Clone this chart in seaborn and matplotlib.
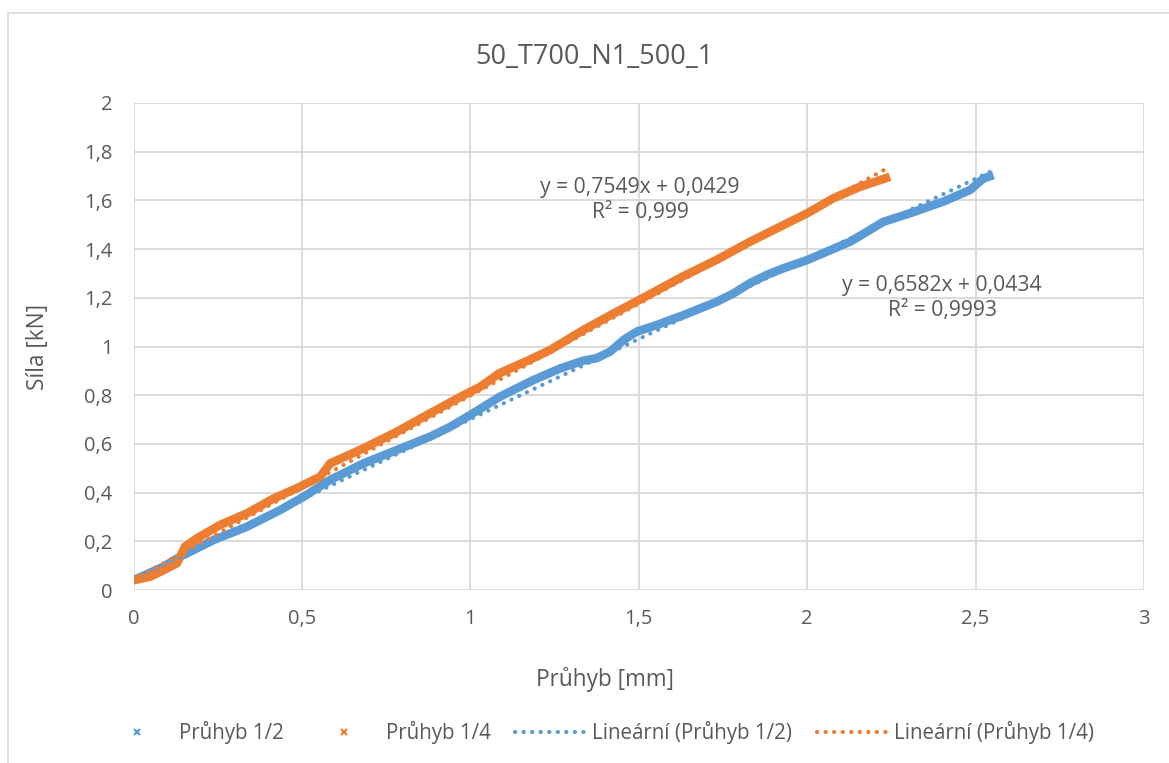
import numpy as np
import pandas as pd
import matplotlib
matplotlib.use("Agg")
import matplotlib.pyplot as plt
from matplotlib.lines import Line2D
from matplotlib.patches import Rectangle
import seaborn as sns

# ---- data ----
title = "50_T700_N1_500_1"
x_label = "Průhyb [mm]"
y_label = "Síla [kN]"
series_names = ["Průhyb 1/2", "Průhyb 1/4"]

x_half = [0.0, 0.089, 0.139, 0.237, 0.337, 0.435, 0.505, 0.584, 0.683, 0.782, 0.881, 0.94,
          1.0, 1.088, 1.187, 1.267, 1.336, 1.375, 1.415, 1.455, 1.494, 1.553, 1.633, 1.732,
          1.781, 1.83, 1.88, 1.929, 2.0, 2.127, 2.177, 2.226, 2.305, 2.404, 2.484, 2.523, 2.553]
y_half = [0.04, 0.096, 0.137, 0.205, 0.26, 0.328, 0.383, 0.452, 0.52, 0.575, 0.63, 0.67,
          0.719, 0.794, 0.862, 0.91, 0.942, 0.952, 0.979, 1.027, 1.061, 1.088, 1.129, 1.184,
          1.218, 1.26, 1.294, 1.321, 1.355, 1.43, 1.471, 1.512, 1.547, 1.595, 1.643, 1.69, 1.704]

x_quarter = [0.0, 0.05, 0.1, 0.129, 0.153, 0.188, 0.257, 0.337, 0.416, 0.485, 0.554, 0.584,
             0.683, 0.782, 0.881, 0.98, 1.03, 1.086, 1.175, 1.236, 1.336, 1.435, 1.5, 1.63,
             1.73, 1.83, 1.93, 2.0, 2.078, 2.157, 2.246]
y_quarter = [0.04, 0.055, 0.089, 0.11, 0.178, 0.212, 0.267, 0.315, 0.376, 0.418, 0.465, 0.52,
             0.582, 0.65, 0.726, 0.80, 0.835, 0.89, 0.945, 0.985, 1.068, 1.143, 1.19, 1.287,
             1.355, 1.43, 1.499, 1.547, 1.609, 1.656, 1.697]

# trendline coefficients shown on the chart
slopes = [0.6582, 0.7549]
intercepts = [0.0434, 0.0429]
eq_texts = ["y = 0,6582x + 0,0434\nR² = 0,9993", "y = 0,7549x + 0,0429\nR² = 0,999"]

x_ticks = [0, 0.5, 1, 1.5, 2, 2.5, 3]
x_tick_labels = ["0", "0,5", "1", "1,5", "2", "2,5", "3"]
y_ticks = [0, 0.2, 0.4, 0.6, 0.8, 1.0, 1.2, 1.4, 1.6, 1.8, 2.0]
y_tick_labels = ["0", "0,2", "0,4", "0,6", "0,8", "1", "1,2", "1,4", "1,6", "1,8", "2"]

colors = ["#5B9BD5", "#ED7D31"]
text_color = "#595959"
grid_color = "#D9D9D9"

# ---- figure ----
sns.set_theme(style="white")
plt.rcParams["font.family"] = ["Open Sans", "DejaVu Sans"]

W, H = 1169, 763
fig = plt.figure(figsize=(W / 100, H / 100), dpi=100)
fig.patches.append(Rectangle((8 / W, -0.1), 1.2, 1 - 13 / H + 0.1, transform=fig.transFigure,
                             fill=False, edgecolor=grid_color, linewidth=1.2, zorder=0))
ax = fig.add_axes([133.5 / W, 1 - 590 / H, (1144 - 133.5) / W, (590 - 103) / H])

df = pd.concat([
    pd.DataFrame({"x": x_half, "y": y_half, "s": series_names[0]}),
    pd.DataFrame({"x": x_quarter, "y": y_quarter, "s": series_names[1]}),
])

dot_style = (0, (0.05, 2.0))
for i, name in enumerate(series_names):
    sub = df[df["s"] == name]
    sns.lineplot(data=sub, x="x", y="y", ax=ax, color=colors[i], linewidth=6.2,
                 sort=False, estimator=None, legend=False, zorder=3 + i,
                 solid_capstyle="butt", solid_joinstyle="round")
    xs = np.array([sub["x"].min(), sub["x"].max()])
    ys = slopes[i] * xs + intercepts[i]
    ax.plot(xs, ys, color=colors[i], linewidth=3.0, linestyle=dot_style,
            dash_capstyle="round", zorder=5 + i)

ax.set_xlim(0, 3)
ax.set_ylim(0, 2)
ax.set_xticks(x_ticks)
ax.set_xticklabels(x_tick_labels)
ax.set_yticks(y_ticks)
ax.set_yticklabels(y_tick_labels)
ax.grid(True, color=grid_color, linewidth=1.3)
ax.set_axisbelow(True)
for sp in ax.spines.values():
    sp.set_visible(False)
ax.tick_params(axis="both", length=0, labelsize=14.5, colors=text_color)
ax.tick_params(axis="x", pad=14)
ax.tick_params(axis="y", pad=15)
ax.set_xlabel("")
ax.set_ylabel("")

fig.text(605 / W, 1 - 679 / H, x_label, ha="center", va="center", fontsize=16.3, color=text_color)
fig.text(38 / W, 1 - 347 / H, y_label, ha="center", va="center", rotation=90, fontsize=16.3,
         color=text_color)
fig.text(594 / W, 1 - 57 / H, title, ha="center", va="center", fontsize=19.5, color=text_color)

# equation labels
ax.text(640 / W, 1 - 200 / H, eq_texts[1], transform=fig.transFigure, ha="center", va="center",
        fontsize=15.2, color=text_color, linespacing=1.25)
ax.text(942 / W, 1 - 298 / H, eq_texts[0], transform=fig.transFigure, ha="center", va="center",
        fontsize=15.2, color=text_color, linespacing=1.25)

handles = [
    Line2D([], [], color=colors[0], marker="x", linestyle="none", markersize=4, markeredgewidth=1.5),
    Line2D([], [], color=colors[1], marker="x", linestyle="none", markersize=4, markeredgewidth=1.5),
    Line2D([], [], color=colors[0], linestyle=dot_style, linewidth=3.0, dash_capstyle="round"),
    Line2D([], [], color=colors[1], linestyle=dot_style, linewidth=3.0, dash_capstyle="round"),
]
labels = [series_names[0], series_names[1],
          "Lineární (" + series_names[0] + ")", "Lineární (" + series_names[1] + ")"]
leg = fig.legend(handles, labels, loc="center", bbox_to_anchor=(598 / W, 1 - 733 / H), ncol=4,
                 frameon=False, fontsize=14.8, handlelength=3.4, columnspacing=1.2,
                 handletextpad=0.34, labelcolor=text_color)

fig.savefig("out.png", dpi=100)
